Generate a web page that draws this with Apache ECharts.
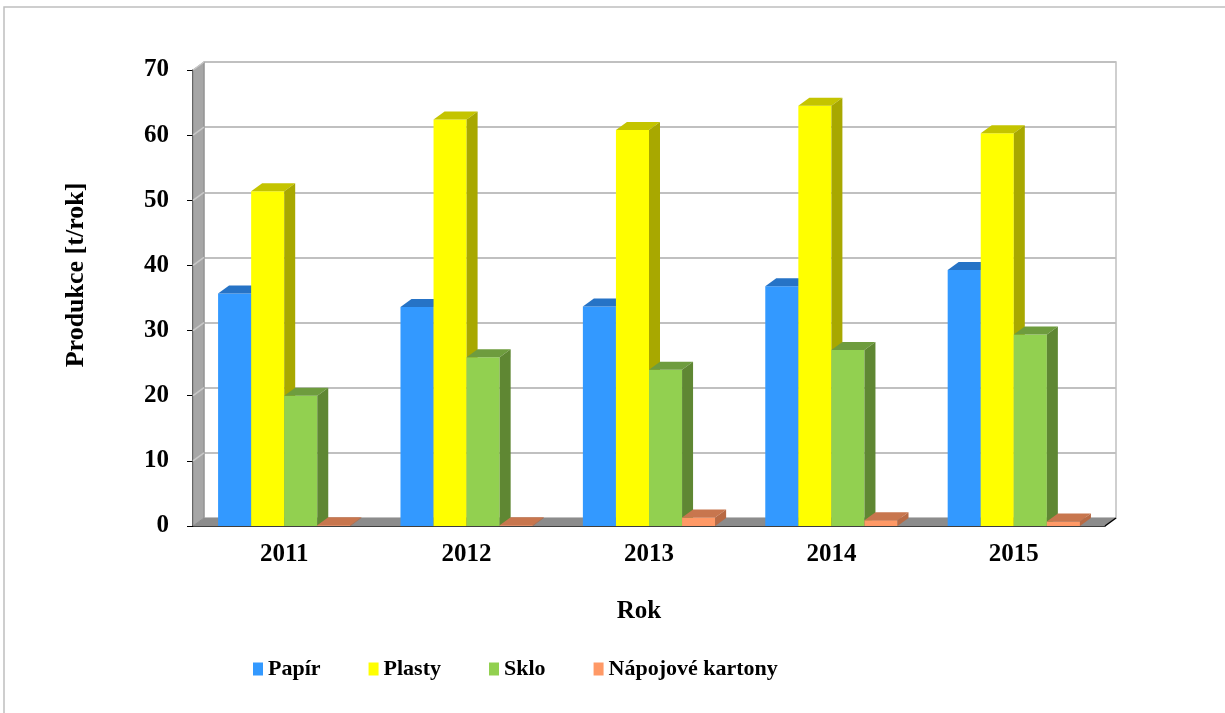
<!DOCTYPE html>
<html>
<head>
<meta charset="utf-8">
<script src="https://cdn.jsdelivr.net/npm/echarts@6/dist/echarts.min.js"></script>
<style>
  html, body { margin: 0; padding: 0; background: #fff; }
  #chart { width: 1225px; height: 713px; }
</style>
</head>
<body>
<div id="chart"></div>
<script>
// data
var roky = ['2011', '2012', '2013', '2014', '2015'];
var papir = [35.7, 33.6, 33.7, 36.8, 39.3];
var plasty = [51.4, 62.4, 60.8, 64.5, 60.3];
var sklo = [20.0, 25.9, 24.0, 27.0, 29.4];
var kartony = [0.1, 0.1, 1.3, 0.9, 0.7];
var yTicks = [0, 10, 20, 30, 40, 50, 60, 70];

var DX = 11, DY = -8;   // hloubka 3D efektu
var GAP = 0.275;        // mezera mezi kategoriemi
var font = '"Liberation Serif", "Times New Roman", serif';

var chart = echarts.init(document.getElementById('chart'));

// sloupec s prední, horní a boční stěnou
function bar3d(idx, front, top, side) {
	return function (params, api) {
		var cat = api.value(0);
		var val = api.value(1);
		var band = api.size([1, 0])[0];
		var w = band * (1 - GAP) / 4;
		var c = api.coord([cat, val]);
		var b = api.coord([cat, 0]);
		var x0 = c[0] - band / 2 + band * GAP / 2 + idx * w;
		var x1 = x0 + w;
		return {
			type: 'group',
			children: [
				{ type: 'rect', shape: { x: x0, y: c[1], width: w, height: b[1] - c[1] }, style: { fill: front } },
				{ type: 'polygon', shape: { points: [[x0, c[1]], [x0 + DX, c[1] + DY], [x1 + DX, c[1] + DY], [x1, c[1]]] }, style: { fill: top } },
				{ type: 'polygon', shape: { points: [[x1, c[1]], [x1 + DX, c[1] + DY], [x1 + DX, b[1] + DY], [x1, b[1]]] }, style: { fill: side } }
			]
		};
	};
}

// podlaha a levá stěna
function frame(params, api) {
	var cs = params.coordSys;
	var xl = cs.x, xr = cs.x + cs.width, yt = cs.y, yb = cs.y + cs.height;
	var kids = [
		{ type: 'polygon', shape: { points: [[xl, yt], [xl + DX, yt + DY], [xl + DX, yb + DY], [xl, yb]] }, style: { fill: '#a6a6a6', stroke: '#8a8a8a', lineWidth: 1 } },
		{ type: 'polygon', shape: { points: [[xl, yb], [xl + DX, yb + DY], [xr + DX, yb + DY], [xr, yb]] }, style: { fill: '#8c8c8c' } },
		{ type: 'line', shape: { x1: xr, y1: yb, x2: xr + DX, y2: yb + DY }, style: { stroke: '#000', lineWidth: 1.5 } }
	];
	yTicks.forEach(function (t) {
		if (t === 0) return;
		var p = api.coord([0, t]);
		kids.push({ type: 'line', shape: { x1: xl, y1: p[1], x2: xl + DX, y2: p[1] + DY }, style: { stroke: '#c8c8c8', lineWidth: 1.5 } });
	});
	return { type: 'group', children: kids };
}

function pairs(arr) {
	return arr.map(function (v, i) { return [i, v]; });
}

var option = {
	backgroundColor: '#ffffff',
	animation: false,
	color: ['#3399ff', '#ffff00', '#92d050', '#ff9966'],
	graphic: [{
		type: 'rect',
		shape: { x: 4, y: 7, width: 1300, height: 800 },
		style: { fill: 'none', stroke: '#bfbfbf', lineWidth: 1.5 },
		z: -10
	}],
	legend: {
		left: 248,
		top: 653,
		itemWidth: 10,
		itemHeight: 13,
		itemGap: 48,
		icon: 'rect',
		data: ['Papír', 'Plasty', 'Sklo', 'Nápojové kartony'],
		textStyle: { fontFamily: font, fontWeight: 'bold', fontSize: 22, color: '#000' }
	},
	grid: [
		{ left: 193, right: 120, top: 70, bottom: 187 },
		{ left: 204, right: 109, top: 62, bottom: 195, show: true, borderColor: '#c0c0c0', borderWidth: 1.5, backgroundColor: 'transparent' }
	],
	xAxis: [{
		type: 'category',
		gridIndex: 0,
		data: roky,
		name: 'Rok',
		nameLocation: 'middle',
		nameGap: 73,
		nameTextStyle: { fontFamily: font, fontWeight: 'bold', fontSize: 25, color: '#000', padding: [0, 20, 0, 0] },
		axisLine: { lineStyle: { color: '#000', width: 1.5 } },
		axisTick: { length: 6, lineStyle: { color: '#000' } },
		axisLabel: { fontFamily: font, fontWeight: 'bold', fontSize: 25, color: '#000', margin: 16 }
	}, {
		type: 'category',
		gridIndex: 1,
		data: roky,
		show: false
	}],
	yAxis: [{
		type: 'value',
		gridIndex: 0,
		min: 0,
		max: 70,
		interval: 10,
		name: 'Produkce [t/rok]',
		nameLocation: 'middle',
		nameGap: 104,
		nameTextStyle: { fontFamily: font, fontWeight: 'bold', fontSize: 26, color: '#000', padding: [0, 0, 0, 46] },
		axisLine: { show: true, lineStyle: { color: '#000', width: 1.5 } },
		axisTick: { show: true, length: 6, lineStyle: { color: '#000' } },
		axisLabel: { fontFamily: font, fontWeight: 'bold', fontSize: 25, color: '#000', margin: 24 },
		splitLine: { show: false }
	}, {
		type: 'value',
		gridIndex: 1,
		min: 0,
		max: 70,
		interval: 10,
		axisLine: { show: false },
		axisTick: { show: false },
		axisLabel: { show: false },
		splitLine: { lineStyle: { color: '#c0c0c0', width: 2 } }
	}],
	series: [
		{ type: 'custom', xAxisIndex: 0, yAxisIndex: 0, renderItem: frame, data: [[0, 0]], silent: true, z: 1 },
		{ name: 'Papír', type: 'custom', renderItem: bar3d(0, '#3399ff', '#2673c6', '#2466aa'), data: pairs(papir), encode: { x: 0, y: 1 }, itemStyle: { color: '#3399ff' }, z: 2 },
		{ name: 'Plasty', type: 'custom', renderItem: bar3d(1, '#ffff00', '#c4c400', '#a8a800'), data: pairs(plasty), encode: { x: 0, y: 1 }, itemStyle: { color: '#ffff00' }, z: 2 },
		{ name: 'Sklo', type: 'custom', renderItem: bar3d(2, '#92d050', '#6e9c3e', '#5f8733'), data: pairs(sklo), encode: { x: 0, y: 1 }, itemStyle: { color: '#92d050' }, z: 2 },
		{ name: 'Nápojové kartony', type: 'custom', renderItem: bar3d(3, '#ff9966', '#c8764e', '#b86a44'), data: pairs(kartony), encode: { x: 0, y: 1 }, itemStyle: { color: '#ff9966' }, z: 2 }
	]
};

chart.setOption(option);
</script>
</body>
</html>
